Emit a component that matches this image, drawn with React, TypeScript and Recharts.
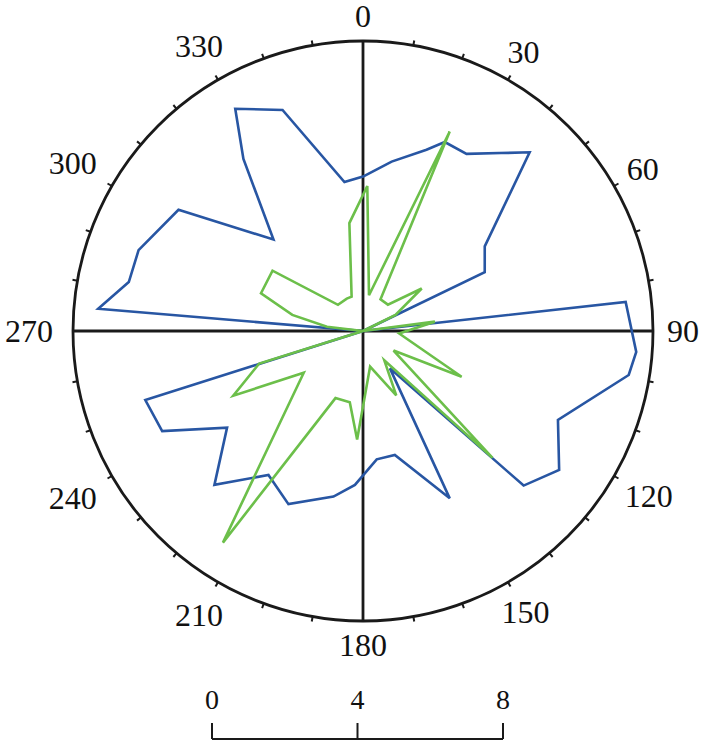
import React from 'react';
import { RadarChart, Radar, PolarGrid, PolarAngleAxis, PolarRadiusAxis, LineChart, XAxis } from 'recharts';

const blueAngles = [0, 9.6, 19.3, 23.4, 30.3, 43, 55.2, 64.2, 74, 83.7, 94.4, 99.4, 114.5, 125.3, 133.9, 144.2, 152.6, 165.6, 173.9, 183, 190.1, 203.3, 213.3, 224, 234.6, 243.5, 252.4, 263, 274.8, 281.8, 289.8, 303.3, 315.6, 325.2, 330.1, 340, 352.9];
const blueValues = [4.26, 4.74, 5.3, 5.68, 5.66, 6.74, 4.09, 3.73, 0, 7.29, 7.56, 7.43, 5.91, 6.63, 6.15, 1.27, 5.2, 3.53, 3.56, 4.25, 4.64, 5.2, 4.75, 5.9, 4.6, 6.19, 6.3, 0, 7.33, 6.6, 6.58, 6.09, 3.53, 5.78, 7.07, 6.49, 4.14];

const greenAngles = [1.7, 9.5, 23.5, 28.9, 43.4, 54.1, 63.6, 73, 82.6, 94, 114.9, 122.6, 134.4, 144, 152.7, 168.7, 183.1, 190.5, 202.3, 213.5, 234.8, 243.5, 252.6, 263, 276.6, 282.8, 290.3, 303.7, 316.3, 333.4, 341.7, 352.8];
const greenValues = [4, 1, 6, 1, 1, 2, 1, 0, 2, 1, 3, 1, 5, 1, 2, 1, 3, 2, 2, 7, 2, 4, 3, 0, 1, 2, 3, 3, 1, 1, 1, 3];

const angleTicks = [0, 10, 20, 30, 40, 50, 60, 70, 80, 90, 100, 110, 120, 130, 140, 150, 160, 170, 180, 190, 200, 210, 220, 230, 240, 250, 260, 270, 280, 290, 300, 310, 320, 330, 340, 350];
const scaleTicks = [0, 4, 8];
const maxValue = 8;

const CX = 363;
const CY = 331;
const R = 290;
const FONT = '"Liberation Serif", "Times New Roman", serif';
const INK = '#1a1a1a';

const blueData = blueAngles.map((a, i) => ({ angle: a, value: blueValues[i] }));
const greenData = greenAngles.map((a, i) => ({ angle: a, value: greenValues[i] }));
const scaleData = scaleTicks.map((v) => ({ v }));

// tick mark every 10 deg, label every 30 deg, text box kept clear of the ring
const AngleTick = (props: any) => {
  const v = props.payload.value;
  const t = (v * Math.PI) / 180;
  const s = Math.sin(t);
  const c = Math.cos(t);
  const label = String(v);
  const halfW = label.length * 8;
  const gap = 14 + (s < -0.1 ? 6 * Math.abs(s) : 0);
  const d = R + gap + Math.abs(s) * halfW + Math.abs(c) * 10.5;
  return (
    <g>
      {v % 90 !== 0 && (
        <line x1={CX + R * s} y1={CY - R * c} x2={CX + (R + 5) * s} y2={CY - (R + 5) * c} stroke={INK} strokeWidth={2} />
      )}
      {v % 30 === 0 && (
        <text x={CX + d * s} y={CY - d * c + 10.5} textAnchor="middle" fontSize={32} fontFamily={FONT} fill="#111">
          {label}
        </text>
      )}
    </g>
  );
};

const layer: React.CSSProperties = { position: 'absolute', left: 0, top: 0 };

export default function App() {
  return (
    <div style={{ position: 'absolute', left: 0, top: 0, width: 703, height: 740, background: '#fff' }}>
      <div style={layer}>
        <RadarChart width={703} height={740} data={blueData} cx={CX} cy={CY} outerRadius={R} startAngle={90} endAngle={-270} margin={{ top: 0, right: 0, bottom: 0, left: 0 }}>
          <PolarGrid gridType="circle" polarAngles={[0, 90, 180, 270]} polarRadius={[R]} stroke={INK} strokeWidth={2.8} />
          <PolarAngleAxis dataKey="angle" type="number" domain={[0, 360]} ticks={angleTicks} tick={<AngleTick />} tickLine={false} axisLine={false} />
          <PolarRadiusAxis type="number" domain={[0, maxValue]} tick={false} axisLine={false} />
          <Radar dataKey="value" stroke="#2856a3" strokeWidth={2.6} fill="none" fillOpacity={0} strokeLinejoin="miter" dot={false} isAnimationActive={false} />
        </RadarChart>
      </div>
      <div style={layer}>
        <RadarChart width={703} height={740} data={greenData} cx={CX} cy={CY} outerRadius={R} startAngle={90} endAngle={-270} margin={{ top: 0, right: 0, bottom: 0, left: 0 }}>
          <PolarAngleAxis dataKey="angle" type="number" domain={[0, 360]} tick={false} tickLine={false} axisLine={false} />
          <PolarRadiusAxis type="number" domain={[0, maxValue]} tick={false} axisLine={false} />
          <Radar dataKey="value" stroke="#6cbf4a" strokeWidth={2.6} fill="none" fillOpacity={0} strokeLinejoin="miter" dot={false} isAnimationActive={false} />
        </RadarChart>
      </div>
      <div style={{ position: 'absolute', left: 172, top: 679 }}>
        <LineChart width={371} height={62} data={scaleData} margin={{ top: 0, right: 40, bottom: 0, left: 40 }}>
          <XAxis
            dataKey="v"
            type="number"
            domain={[0, maxValue]}
            ticks={scaleTicks}
            orientation="top"
            height={60}
            interval={0}
            tickSize={16}
            tickMargin={14}
            axisLine={{ stroke: INK, strokeWidth: 2 }}
            tickLine={{ stroke: INK, strokeWidth: 2 }}
            tick={{ fill: '#111', fontSize: 28, fontFamily: FONT }}
          />
        </LineChart>
      </div>
    </div>
  );
}
